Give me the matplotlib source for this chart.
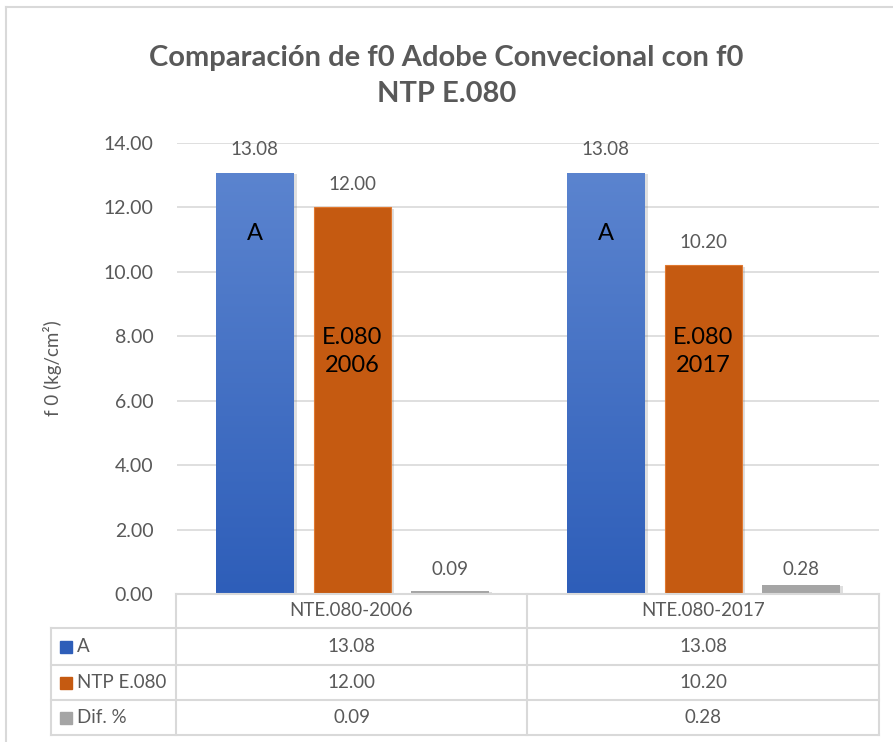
import numpy as np
import matplotlib
matplotlib.use("Agg")
import matplotlib.pyplot as plt
from matplotlib.patches import Rectangle
from matplotlib.lines import Line2D
from matplotlib.colors import LinearSegmentedColormap
import matplotlib.patheffects as pe

plt.rcParams['font.family'] = ['Lato', 'DejaVu Sans']

# ---- data ----
categories = ["NTE.080-2006", "NTE.080-2017"]
series_names = ["A", "NTP E.080", "Dif. %"]
values_a = [13.08, 13.08]
values_ntp = [12.00, 10.20]
values_dif = [0.09, 0.28]
inner_labels_a = ["A", "A"]
inner_labels_ntp = ["E.080\n2006", "E.080\n2017"]
y_ticks = [0, 2, 4, 6, 8, 10, 12, 14]

TXT = "#595959"
GRID = "#D9D9D9"
BLUE_TOP, BLUE_BOT = "#5B84CF", "#2E5EB9"
ORANGE = "#C55A11"
GRAY = "#A5A5A5"

W, H = 893, 742
fig = plt.figure(figsize=(W / 100, H / 100), dpi=100)

def fx(px):
    return px / W

def fy(py):
    return 1 - py / H

# chart frame
fig.add_artist(Line2D([fx(6), fx(6)], [fy(7), 0], color=GRID, lw=1.5))
fig.add_artist(Line2D([fx(6), 1], [fy(7), fy(7)], color=GRID, lw=1.5))

ax = fig.add_axes([fx(177), fy(594), fx(879) - fx(177), fy(143) - fy(594)])
ax.set_yticks(y_ticks)
ax.set_yticklabels([f"{t:.2f}" for t in y_ticks], fontsize=14, color=TXT)
ax.tick_params(axis='y', length=0, pad=17)
ax.set_xticks([])
for s in ax.spines.values():
    s.set_visible(False)
ax.grid(axis='y', color=GRID, lw=1.2)
ax.set_axisbelow(True)

x = np.arange(len(categories))
bw = 0.222
off = 0.278
shadow = [pe.SimplePatchShadow(offset=(2, -1), alpha=0.25, shadow_rgbFace="#808080"), pe.Normal()]

bars_a = ax.bar(x - off, values_a, bw, color=BLUE_BOT, zorder=2, path_effects=shadow)
bars_n = ax.bar(x, values_ntp, bw, color=ORANGE, edgecolor="#E0782F", lw=0.8, zorder=2,
                path_effects=shadow)
bars_d = ax.bar(x + off, values_dif, bw, color=GRAY, zorder=2, path_effects=shadow)

# vertical gradient on the blue bars
grad = np.linspace(0, 1, 256).reshape(-1, 1)
cmap = LinearSegmentedColormap.from_list("bl", [BLUE_BOT, BLUE_TOP])
for b in bars_a:
    x0, y0, w, h = b.get_x(), b.get_y(), b.get_width(), b.get_height()
    im = ax.imshow(grad, cmap=cmap, extent=(x0, x0 + w, y0, y0 + h), origin='lower',
                   aspect='auto', zorder=2.5)
    im.set_clip_path(b)
ax.set_xlim(-0.5, 1.5)
ax.set_ylim(0, 14)

# value labels above the bars
for bars, vals in ((bars_a, values_a), (bars_n, values_ntp)):
    for b, v in zip(bars, vals):
        ax.annotate(f"{v:.2f}", (b.get_x() + b.get_width() / 2, v), xytext=(0, 16.5),
                    textcoords="offset points", ha='center', va='center',
                    fontsize=13.5, color=TXT, zorder=4)
# the small differences share one label line just above the axis
for b, v in zip(bars_d, values_dif):
    ax.text(b.get_x() + b.get_width() / 2, 0.75, f"{v:.2f}", ha='center', va='center',
            fontsize=13.5, color=TXT, zorder=4)

# labels inside the bars
for b, t in zip(bars_a, inner_labels_a):
    ax.text(b.get_x() + b.get_width() / 2, 11.2, t, ha='center', va='center',
            fontsize=17, color='black', zorder=4)
for b, t in zip(bars_n, inner_labels_ntp):
    ax.text(b.get_x() + b.get_width() / 2, 7.53, t, ha='center', va='center',
            fontsize=17, color='black', zorder=4, linespacing=1.4)

# title and axis label
fig.text(0.5, fy(76), "Comparación de f0 Adobe Convecional con f0\nNTP E.080",
         ha='center', va='center', fontsize=21, fontweight='bold', color=TXT,
         linespacing=1.5)
fig.text(fx(53), fy(368), "f 0 (kg/cm²)", rotation=90, ha='center', va='center',
         fontsize=13.5, color=TXT)

# data table below the plot
xl, xd, xm, xr = 51, 176, 527, 879
rows_y = [594, 628, 665, 700, 735]
lw_t = 1.5
fig.add_artist(Line2D([fx(xd), fx(xr)], [fy(rows_y[0])] * 2, color=GRID, lw=lw_t))
for yy in rows_y[1:]:
    fig.add_artist(Line2D([fx(xl), fx(xr)], [fy(yy)] * 2, color=GRID, lw=lw_t))
fig.add_artist(Line2D([fx(xl)] * 2, [fy(rows_y[1]), fy(rows_y[-1])], color=GRID, lw=lw_t))
for xx in (xd, xm, xr):
    fig.add_artist(Line2D([fx(xx)] * 2, [fy(rows_y[0]), fy(rows_y[-1])], color=GRID, lw=lw_t))

col_centers = [(xd + xm) / 2, (xm + xr) / 2]
hy = (rows_y[0] + rows_y[1]) / 2
for cx, c in zip(col_centers, categories):
    fig.text(fx(cx), fy(hy), c, ha='center', va='center', fontsize=13.5, color=TXT)

colors = [BLUE_BOT, ORANGE, GRAY]
series_vals = [values_a, values_ntp, values_dif]
for i, (name, col, vals) in enumerate(zip(series_names, colors, series_vals)):
    cy = (rows_y[i + 1] + rows_y[i + 2]) / 2
    fig.add_artist(Rectangle((fx(60), fy(cy + 6)), fx(12), 12 / H, color=col))
    fig.text(fx(77), fy(cy), name, ha='left', va='center', fontsize=13.5, color=TXT)
    for cx, v in zip(col_centers, vals):
        fig.text(fx(cx), fy(cy), f"{v:.2f}", ha='center', va='center', fontsize=13.5,
                 color=TXT)

fig.savefig("out.png", dpi=100)
